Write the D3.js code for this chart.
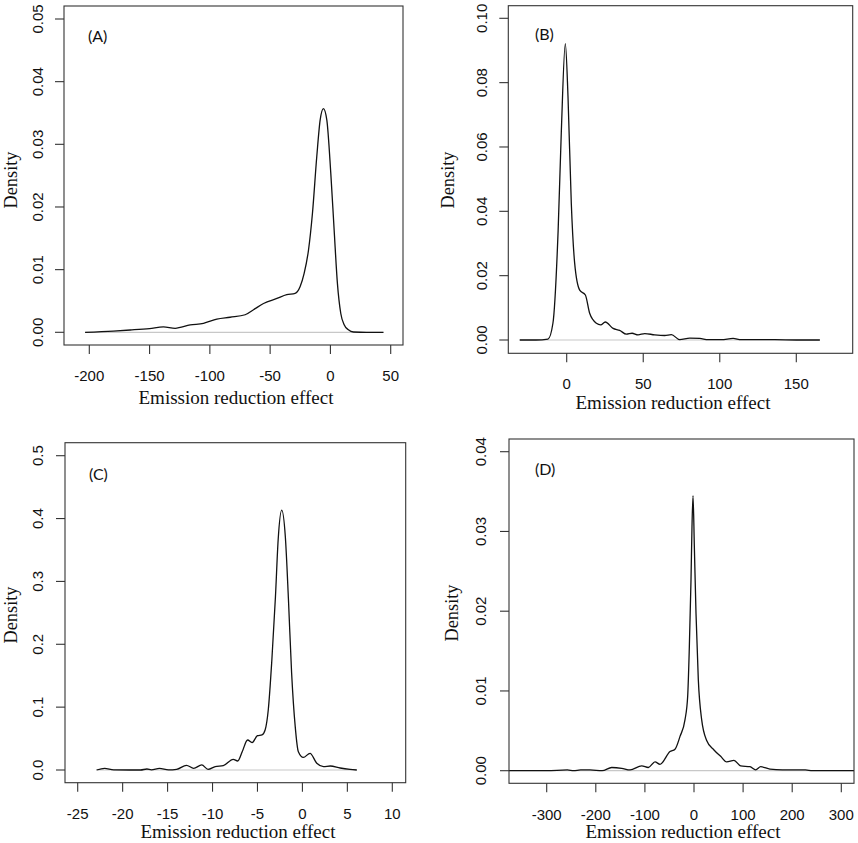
<!DOCTYPE html>
<html>
<head>
<meta charset="utf-8">
<script src="https://cdn.jsdelivr.net/npm/d3@7/dist/d3.min.js"></script>
<style>
  html, body { margin: 0; padding: 0; background: #fff; }
  svg { display: block; }
</style>
</head>
<body>
<svg id="chart" width="858" height="843"></svg>
<script>
// ---------- DATA ----------
const panelLabels = ["(A)", "(B)", "(C)", "(D)"];
const xAxisTitle = "Emission reduction effect";
const yAxisTitle = "Density";

const xTicksA = [-200, -150, -100, -50, 0, 50];
const yTicksA = [0, 0.01, 0.02, 0.03, 0.04, 0.05];
const xTicksB = [0, 50, 100, 150];
const yTicksB = [0, 0.02, 0.04, 0.06, 0.08, 0.10];
const xTicksC = [-25, -20, -15, -10, -5, 0, 5, 10];
const yTicksC = [0, 0.1, 0.2, 0.3, 0.4, 0.5];
const xTicksD = [-300, -200, -100, 0, 100, 200, 300];
const yTicksD = [0, 0.01, 0.02, 0.03, 0.04];

const yFmtA = ["0.00","0.01","0.02","0.03","0.04","0.05"];
const yFmtB = ["0.00","0.02","0.04","0.06","0.08","0.10"];
const yFmtC = ["0.0","0.1","0.2","0.3","0.4","0.5"];
const yFmtD = ["0.00","0.01","0.02","0.03","0.04"];

// density curves [x, density]
const densityA = [
  [-203.5,0],[-180,0.0002],[-166,0.00037],[-150,0.0006],[-138.5,0.00085],[-128.8,0.00064],
  [-116.3,0.00117],[-105.3,0.00144],[-94.2,0.0021],[-83.2,0.0024],[-70.7,0.0028],
  [-63.8,0.0036],[-55.5,0.0046],[-44.4,0.0054],[-36.2,0.0060],[-29.3,0.0062],
  [-25.1,0.0073],[-21.8,0.0094],[-18.2,0.0131],[-14.9,0.0190],[-11.3,0.0281],
  [-8.5,0.0339],[-5.8,0.0357],[-3.0,0.0339],[0.3,0.0254],[3.1,0.0163],[5.8,0.0078],
  [8.6,0.0030],[11.4,0.0012],[14.9,0.0004],[19.1,0.00005],[30,0],[44,0]
];
const densityB = [
  [-30.7,0],[-20,0],[-12.2,0.0003],[-9,0.0052],[-5.6,0.034],[-3.5,0.065],[-0.9,0.0921],
  [0.85,0.0757],[3,0.0425],[5.2,0.0239],[8.5,0.0155],[12.2,0.014],[15,0.0083],
  [19.4,0.0052],[22.2,0.0047],[25.2,0.0056],[30.3,0.0036],[34.6,0.003],[39,0.0018],
  [42.7,0.0021],[46.6,0.0016],[51,0.0020],[57.5,0.0016],[64,0.0014],[68.4,0.0017],
  [73.8,0.0001],[80.4,0.0006],[87,0.0005],[92.4,0.0001],[101,0.0001],[108.7,0.0005],
  [114,0.0001],[136,0.0001],[150,0],[165.4,0]
];
const densityC = [
  [-22.9,0],[-22,0.0027],[-21,0.0002],[-18,0],[-17.3,0.0016],[-16.8,0.0002],[-15.9,0.0027],
  [-14.9,0.0002],[-14,0.001],[-12.9,0.0075],[-12.1,0.0027],[-11.2,0.008],[-10.5,0.001],
  [-9.7,0.0053],[-8.8,0.0069],[-7.7,0.017],[-7.2,0.0143],[-6.7,0.029],[-6.1,0.0477],
  [-5.6,0.0435],[-5.0,0.0546],[-4.5,0.0557],[-4.15,0.0636],[-3.8,0.0954],[-3.4,0.175],
  [-3.0,0.2755],[-2.7,0.366],[-2.3,0.4134],[-1.9,0.371],[-1.55,0.270],[-1.2,0.154],
  [-0.8,0.069],[-0.45,0.029],[0.1,0.020],[0.85,0.0265],[1.6,0.0106],[2.35,0.0053],
  [3.1,0.0064],[4.2,0.0032],[5.3,0.001],[6.05,0]
];
const densityD = [
  [-380,0],[-300,0],[-258,0.0001],[-245,0],[-231,0.0001],[-211.7,0.0001],[-187,0],
  [-167.6,0.0004],[-147.2,0.0003],[-130.3,0.0001],[-106.5,0.0006],[-93,0.0004],
  [-79.4,0.0011],[-69.2,0.0008],[-48.9,0.0024],[-38.7,0.0027],[-28.5,0.0043],
  [-18.3,0.0064],[-12.9,0.0093],[-9.5,0.0155],[-6.1,0.0239],[-4.1,0.0306],[-2.0,0.0345],
  [0.7,0.0281],[4.1,0.0197],[8.8,0.0114],[15.6,0.0064],[25.8,0.0038],[40.7,0.0026],
  [54.3,0.0018],[66.5,0.0011],[81.4,0.0013],[95,0.0006],[114,0.0005],[125.6,0.0001],
  [135.8,0.0005],[154.7,0.0002],[180,0.0001],[227,0.0001],[241,0],[330,0]
];

// ---------- LAYOUT ----------
const panels = [
  { label: panelLabels[0], data: densityA, xTicks: xTicksA, yTicks: yTicksA, yFmt: yFmtA,
    box: [64, 403, 6, 345], xPx: [89.3, 390.7], yPx: [332.3, 19],
    yTickX: 37, yTitle: [11, 180], xTickY: 375, xTitle: [236, 398], lab: [88, 35] },
  { label: panelLabels[1], data: densityB, xTicks: xTicksB, yTicks: yTicksB, yFmt: yFmtB,
    box: [508.3, 852.7, 5.7, 353.3], xPx: [566.7, 796.3], yPx: [340, 18.3],
    yTickX: 481, yTitle: [448, 180], xTickY: 383, xTitle: [673, 403], lab: [535, 33] },
  { label: panelLabels[2], data: densityC, xTicks: xTicksC, yTicks: yTicksC, yFmt: yFmtC,
    box: [65, 405.7, 442.7, 782.7], xPx: [77.7, 392.3], yPx: [770, 455.7],
    yTickX: 37.3, yTitle: [10.5, 615], xTickY: 813, xTitle: [238, 831.5], lab: [89, 473] },
  { label: panelLabels[3], data: densityD, xTicks: xTicksD, yTicks: yTicksD, yFmt: yFmtD,
    box: [509, 854, 439, 783.3], xPx: [546.7, 841.3], yPx: [770.7, 451.7],
    yTickX: 480.7, yTitle: [451.7, 613], xTickY: 814, xTitle: [683, 831.5], lab: [535, 468] }
];

const svg = d3.select("#chart");
const tickLen = 9;
const sansTick = "'Liberation Sans', Arial, sans-serif";
const serif = "'Liberation Serif', 'DejaVu Serif', serif";

panels.forEach((p, i) => {
  const [bx0, bx1, by0, by1] = p.box;
  const x = d3.scaleLinear().domain([p.xTicks[0], p.xTicks[p.xTicks.length - 1]]).range(p.xPx);
  const y = d3.scaleLinear().domain([p.yTicks[0], p.yTicks[p.yTicks.length - 1]]).range(p.yPx);
  const g = svg.append("g");

  const clipId = "clip" + i;
  svg.append("clipPath").attr("id", clipId)
    .append("rect").attr("x", bx0).attr("y", by0).attr("width", bx1 - bx0).attr("height", by1 - by0);

  const plot = g.append("g").attr("clip-path", `url(#${clipId})`);
  const xs = p.data.map(d => d[0]);
  plot.append("line")
    .attr("x1", x(d3.min(xs))).attr("x2", x(d3.max(xs)))
    .attr("y1", y(0)).attr("y2", y(0))
    .attr("stroke", "#c8c8c8").attr("stroke-width", 1.2);

  const line = d3.line().x(d => x(d[0])).y(d => y(d[1])).curve(d3.curveMonotoneX);
  plot.append("path").datum(p.data)
    .attr("d", line).attr("fill", "none")
    .attr("stroke", "#111").attr("stroke-width", 1.3).attr("stroke-linejoin", "round");

  // box
  g.append("rect").attr("x", bx0).attr("y", by0).attr("width", bx1 - bx0).attr("height", by1 - by0)
    .attr("fill", "none").attr("stroke", "#333").attr("stroke-width", 1.1);

  // x axis ticks
  const xa = g.append("g");
  p.xTicks.forEach(t => {
    xa.append("line").attr("x1", x(t)).attr("x2", x(t)).attr("y1", by1).attr("y2", by1 + tickLen)
      .attr("stroke", "#333").attr("stroke-width", 1.1);
    xa.append("text").attr("x", x(t)).attr("y", p.xTickY)
      .attr("text-anchor", "middle").attr("dominant-baseline", "central")
      .attr("font-family", sansTick).attr("font-size", 15).attr("fill", "#111")
      .text(String(t));
  });

  // y axis ticks
  const ya = g.append("g");
  p.yTicks.forEach((t, k) => {
    ya.append("line").attr("x1", bx0 - tickLen).attr("x2", bx0).attr("y1", y(t)).attr("y2", y(t))
      .attr("stroke", "#333").attr("stroke-width", 1.1);
    ya.append("text").attr("transform", `translate(${p.yTickX},${y(t)}) rotate(-90)`)
      .attr("text-anchor", "middle").attr("dominant-baseline", "central")
      .attr("font-family", sansTick).attr("font-size", 15).attr("fill", "#111")
      .text(p.yFmt[k]);
  });

  // axis titles
  g.append("text").attr("x", p.xTitle[0]).attr("y", p.xTitle[1])
    .attr("text-anchor", "middle").attr("dominant-baseline", "central")
    .attr("font-family", serif).attr("font-size", 18).attr("fill", "#111")
    .attr("textLength", 195).attr("lengthAdjust", "spacingAndGlyphs")
    .text(xAxisTitle);
  g.append("text").attr("transform", `translate(${p.yTitle[0]},${p.yTitle[1]}) rotate(-90)`)
    .attr("text-anchor", "middle").attr("dominant-baseline", "central")
    .attr("font-family", serif).attr("font-size", 18).attr("fill", "#111")
    .attr("textLength", 57).attr("lengthAdjust", "spacingAndGlyphs")
    .text(yAxisTitle);

  // panel label
  g.append("text").attr("x", p.lab[0]).attr("y", p.lab[1])
    .attr("dominant-baseline", "central")
    .attr("font-family", "Lato, 'Open Sans', sans-serif").attr("font-size", 16).attr("fill", "#111")
    .text(p.label);
});
</script>
</body>
</html>
